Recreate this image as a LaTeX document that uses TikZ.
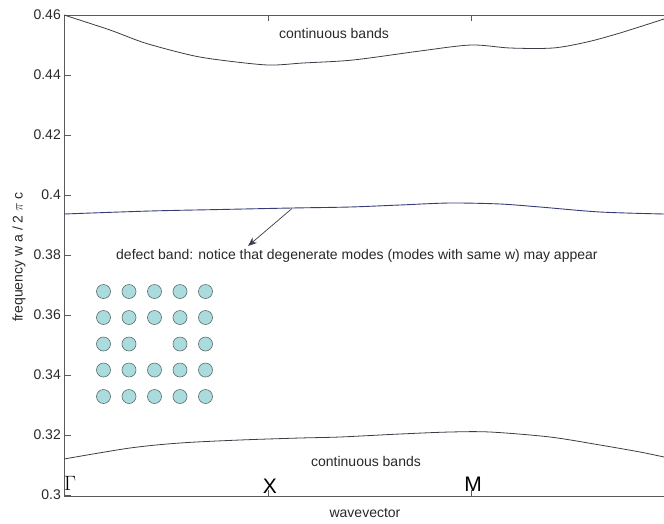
\documentclass[tikz,border=0pt]{standalone}
\usepackage{fontspec}
\setmainfont{Liberation Sans}
\usetikzlibrary{arrows.meta}
\definecolor{axisgray}{RGB}{90,90,90}
\definecolor{bandgray}{RGB}{60,60,70}
\definecolor{defectblue}{RGB}{55,60,120}
\definecolor{rodfill}{RGB}{170,220,222}
\definecolor{rodedge}{RGB}{95,110,110}
\definecolor{labelgray}{RGB}{40,40,40}
\tikzset{
  axisline/.style={draw=axisgray, line width=0.9pt},
  tickmark/.style={draw=axisgray, line width=0.8pt},
  bandline/.style={draw=bandgray, line width=0.8pt},
  defectline/.style={draw=defectblue, line width=0.9pt},
  ticklabel/.style={anchor=east, inner sep=0pt, text=labelgray, font=\fontsize{14}{16}\selectfont},
  annot/.style={inner sep=0pt, text=labelgray, font=\fontsize{14}{16}\selectfont},
  kpoint/.style={inner sep=0pt, text=black, font=\fontsize{21}{24}\selectfont},
  rod/.style={circle, draw=rodedge, fill=rodfill, line width=0.6pt, minimum size=14pt, inner sep=0pt},
  pointer/.style={draw=bandgray, line width=0.7pt, -{Stealth[length=9pt,width=7pt]}}
}
\begin{document}
\begin{tikzpicture}[x=1pt,y=-1pt]
\useasboundingbox (0,0) rectangle (664,523);
% axes
\coordinate (tl) at (64,15);
\coordinate (bl) at (64,496);
\coordinate (tr) at (664,15);
\coordinate (br) at (664,496);
\draw[axisline] (tr) -- (tl) -- (bl) -- (br);
% y ticks and labels
\foreach \lab [count=\i from 0] in {0.46,0.44,0.42,0.4,0.38,0.36,0.34,0.32,0.3}{
  \coordinate (yt\i) at (64,15+60*\i);
  \coordinate (ye\i) at (71,15+60*\i);
  \draw[tickmark] (yt\i) -- (ye\i);
  \node[ticklabel] (yl\i) at (61,15+60*\i) {\lab};
}
% x ticks
\foreach \xx/\nm in {268/X,471/M}{
  \coordinate (tt\nm) at (\xx,15);
  \coordinate (tb\nm) at (\xx,21);
  \coordinate (bt\nm) at (\xx,496);
  \coordinate (bb\nm) at (\xx,490);
  \draw[tickmark] (tt\nm) -- (tb\nm);
  \draw[tickmark] (bt\nm) -- (bb\nm);
}
% bands
\draw[bandline] plot[smooth, tension=0.5] coordinates {(64,15) (110,30) (145,43) (190,55) (220,60) (268,65) (303,63) (353,60) (420,51) (471,45) (510,48) (553,48) (587,42) (620,33) (664,19)};
\draw[defectline] plot[smooth, tension=0.5] coordinates {(64,214) (150,211) (220,209.5) (292,208) (350,207) (400,205) (450,203) (500,204) (540,207) (600,212) (664,214)};
\draw[bandline] plot[smooth, tension=0.5] coordinates {(64,459) (130,448) (180,443) (240,440) (300,438) (340,437) (400,434) (450,432) (490,432) (550,437) (600,445) (640,452) (664,457)};
% annotations
\node[annot] (cbtop) at (334,33) {continuous bands};
\node[annot] (cbbot) at (366,461) {continuous bands};
\node[annot, anchor=west] (defect) at (116,256) {defect band: notice that degenerate modes (modes with same w) may appear};
\coordinate (onband) at (292,208.5);
\coordinate (tip) at (248,246);
\draw[pointer] (onband) -- (tip);
% axis titles
\node[annot, rotate=90] (ylab) at (19,257) {frequency w a / 2 $\pi$ c};
\node[annot] (xlab) at (365,513) {wavevector};
% k-point labels
\node[inner sep=0pt, font=\fontsize{22}{24}\selectfont, anchor=base west] (gam) at (64,490) {$\Gamma$};
\node[kpoint] (kx) at (270,486) {X};
\node[kpoint] (km) at (473,484) {M};
% photonic crystal with a point defect
\foreach \c [count=\ci from 1] in {103.5,129,154.5,180,205.5}{
  \foreach \r [count=\ri from 1] in {291.5,317.5,344,370,396.5}{
    \ifnum\ci=3 \ifnum\ri=3 \else
      \node[rod] (rod\ci\ri) at (\c,\r) {};
    \fi\else
      \node[rod] (rod\ci\ri) at (\c,\r) {};
    \fi
  }
}
\end{tikzpicture}
\end{document}
